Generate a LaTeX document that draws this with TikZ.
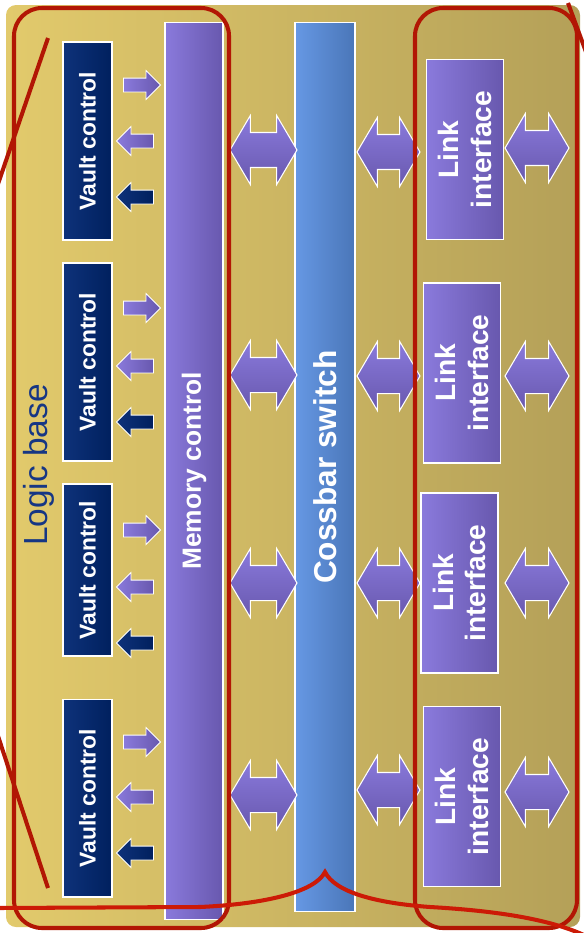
\documentclass[tikz,border=0pt]{standalone}
\usepackage{fontspec}
\setmainfont{Liberation Sans}
\usepackage{xcolor}
\definecolor{baseL}{RGB}{226,202,108}
\definecolor{baseR}{RGB}{180,160,88}
\definecolor{navyL}{RGB}{14,50,122}
\definecolor{navyR}{RGB}{0,32,94}
\definecolor{lilacL}{RGB}{138,122,220}
\definecolor{lilacR}{RGB}{104,88,174}
\definecolor{blueL}{RGB}{102,152,228}
\definecolor{blueR}{RGB}{74,118,184}
\definecolor{logicblue}{RGB}{22,54,132}
\definecolor{markred}{RGB}{178,22,4}
\definecolor{bracered}{RGB}{204,26,6}
\usepackage{tikz}
\usetikzlibrary{shapes.arrows}

\begin{document}
\begin{tikzpicture}[x=0.02cm,y=-0.02cm,
  box/.style={draw=white,line width=0.6pt,rotate=90,inner sep=0pt,align=center,text=white},
  vault/.style={box,left color=navyL,right color=navyR,minimum height=0.98cm,
    font=\bfseries\fontsize{13}{15}\selectfont},
  lilacbox/.style={box,left color=lilacL,right color=lilacR},
  linkbox/.style={lilacbox,minimum height=1.54cm,minimum width=3.6cm,
    font=\bfseries\fontsize{16}{18.5}\selectfont},
  smallarrow/.style={single arrow,draw=white,line width=0.5pt,inner xsep=0pt,inner ysep=0.13cm,
    minimum height=0.74cm,single arrow head extend=0.15cm,single arrow tip angle=90},
  ctrlin/.style={smallarrow,left color=lilacL,right color=lilacR},
  ctrlout/.style={smallarrow,shape border rotate=180,left color=lilacL,right color=lilacR},
  dataout/.style={smallarrow,shape border rotate=180,left color=navyL,right color=navyR},
  bus/.style={double arrow,draw=white,line width=0.6pt,inner xsep=0pt,inner ysep=0.34cm,
    double arrow head extend=0.34cm,double arrow tip angle=119,
    top color=lilacL,bottom color=lilacR},
  redmark/.style={draw=markred,line width=2.3pt}
]
\useasboundingbox (0,0) rectangle (583,933);

% logic die
\path[left color=baseL,right color=baseR,rounded corners=0.2cm] (6,5) rectangle (580,927);
\node[rotate=90,text=logicblue,font=\fontsize{19}{22}\selectfont] (logic) at (39,465) {Logic base};

% vault controllers
\node[vault,minimum width=3.96cm] (vault1) at (87.5,141) {Vault control};
\node[vault,minimum width=3.96cm] (vault2) at (87.5,362) {Vault control};
\node[vault,minimum width=3.44cm] (vault3) at (87.5,570) {Vault control};
\node[vault,minimum width=3.96cm] (vault4) at (87.5,798) {Vault control};

% command, write and read paths of each vault
\foreach \n/\a/\b/\c in {1/85/141/197, 2/308/366/422, 3/530/587/643, 4/742/797/853} {
  \node[ctrlin] (cmd\n) at (138.5,\a) {};
  \node[ctrlout] (wr\n) at (138.5,\b) {};
  \node[dataout] (rd\n) at (138.5,\c) {};
}

\node[lilacbox,minimum width=17.96cm,minimum height=1.16cm,
  font=\bfseries\fontsize{15}{18}\selectfont] (mem) at (194,471) {Memory control};
\node[box,left color=blueL,right color=blueR,minimum width=17.8cm,minimum height=1.2cm,
  font=\bfseries\fontsize{18}{21}\selectfont] (xbar) at (325,467) {Cossbar switch};

% external links
\node[linkbox] (link1) at (465,149.5) {Link\\interface};
\node[linkbox] (link2) at (462,373) {Link\\interface};
\node[linkbox] (link3) at (459.5,583) {Link\\interface};
\node[linkbox] (link4) at (462,796.5) {Link\\interface};

% buses
\foreach \n/\y in {1/150,2/375,3/583,4/795}
  \node[bus,minimum height=1.34cm] (mx\n) at (263.5,\y) {};
\foreach \n/\y in {1/152,2/376,3/583,4/790}
  \node[bus,minimum height=1.26cm] (xl\n) at (388.5,\y) {};
\foreach \n/\y in {1/148,2/376,3/583,4/792}
  \node[bus,minimum height=1.28cm] (ext\n) at (537,\y) {};

% red marks
\draw[redmark,rounded corners=0.56cm] (14,8) rectangle (229,928);
\draw[redmark,rounded corners=0.56cm] (415,8) rectangle (577,928);
\draw[redmark] (48,38) -- (-2,184);
\draw[redmark] (-2,736) -- (48,888);
\draw[redmark] (568,3) -- (586,52);
\draw[redmark,draw=bracered] (-2,908) -- (200,907)
  .. controls (265,904) and (315,892) .. (325,872)
  .. controls (335,892) and (375,903) .. (430,907)
  .. controls (500,911) and (555,920) .. (590,938);
\end{tikzpicture}
\end{document}
